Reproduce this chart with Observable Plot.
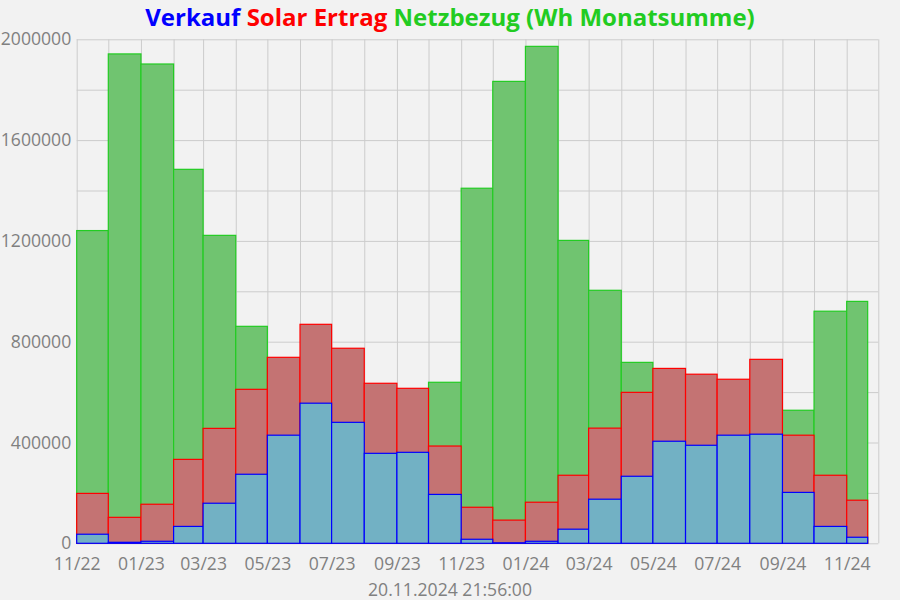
<!DOCTYPE html>
<html>
<head>
<meta charset="utf-8">
<script src="https://cdn.jsdelivr.net/npm/d3@7"></script>
<script src="https://cdn.jsdelivr.net/npm/@observablehq/plot@0.6"></script>
<style>
  html, body { margin: 0; padding: 0; background: #f2f2f2; }
  #wrap { position: relative; width: 900px; height: 600px; overflow: hidden; }
  #title { position: absolute; left: 0; top: 5px; width: 900px; text-align: center;
           font-family: "Open Sans", sans-serif; font-weight: bold; font-size: 24px; line-height: 24px; white-space: nowrap; }
  #caption { position: absolute; left: 0; top: 581px; width: 900px; text-align: center;
             font-family: "Open Sans", sans-serif; font-size: 17.6px; line-height: 17.6px; color: #808080; }
  #chart { position: absolute; left: 0; top: 0; }
</style>
</head>
<body>
<div id="wrap">
  <div id="chart"></div>
  <div id="title"><span style="color:#0000ff">Verkauf</span> <span style="color:#ff0000">Solar Ertrag</span> <span style="color:#22cc22">Netzbezug (Wh Monatsumme)</span></div>
  <div id="caption">20.11.2024 21:56:00</div>
</div>
<script>
// Months (category labels, year-month)
const months = ["2022-11","2022-12","2023-01","2023-02","2023-03","2023-04","2023-05","2023-06","2023-07","2023-08","2023-09","2023-10",
                "2023-11","2023-12","2024-01","2024-02","2024-03","2024-04","2024-05","2024-06","2024-07","2024-08","2024-09","2024-10","2024-11"];
// Verkauf (Wh, blue)
const verkauf = [36000, 4000, 8000, 67000, 159000, 274000, 429000, 556000, 480000, 357000, 361000, 194000,
                 16000, 2000, 8000, 56000, 175000, 266000, 405000, 389000, 429000, 433000, 202000, 67000, 24000];
// Solar Ertrag (Wh, red)
const solar = [198000, 103000, 155000, 333000, 456000, 611000, 738000, 869000, 774000, 635000, 615000, 386000,
               143000, 92000, 163000, 270000, 457000, 599000, 694000, 671000, 651000, 730000, 429000, 270000, 171000];
// Netzbezug (Wh, green) - summer values hidden behind red are estimates
const netz = [1241000, 1942000, 1902000, 1484000, 1222000, 861000, 420000, 330000, 300000, 310000, 400000, 639000,
              1409000, 1833000, 1972000, 1202000, 1004000, 718000, 480000, 370000, 360000, 390000, 528000, 921000, 960000];
const dataTime = "2024-11-20T21:56:00Z";
const axisEnd = "2024-12";
const yTicks = [0, 400000, 800000, 1200000, 1600000, 2000000];
const yGrid = [0, 200000, 400000, 600000, 800000, 1000000, 1200000, 1400000, 1600000, 1800000, 2000000];

const parseM = s => new Date(s + "-01T00:00:00Z");
const starts = months.map(parseM);
const rows = months.map((m, i) => ({
  start: starts[i],
  end: i < months.length - 1 ? starts[i + 1] : new Date(dataTime),
  verkauf: verkauf[i], solar: solar[i], netz: netz[i]
}));
const gridMonths = [...starts, parseM(axisEnd)];
const labelMonths = starts.filter((d, i) => i % 2 === 0);

const chart = Plot.plot({
  width: 900,
  height: 600,
  marginTop: 39.3,
  marginBottom: 56.7,
  marginLeft: 76.7,
  marginRight: 21.7,
  style: { background: "transparent", fontFamily: "Open Sans, sans-serif", fontSize: "17.6px", color: "#808080" },
  x: { type: "utc", domain: [starts[0], parseM(axisEnd)] },
  y: { domain: [0, 2000000] },
  marks: [
    Plot.gridX(gridMonths, { stroke: "#cccccc", strokeOpacity: 1, strokeWidth: 1 }),
    Plot.gridY(yGrid, { stroke: "#cccccc", strokeOpacity: 1, strokeWidth: 1 }),
    Plot.rectY(rows, { x1: "start", x2: "end", y: "netz", fill: "#70c470", stroke: "#22cc22", strokeWidth: 1.2 }),
    Plot.rectY(rows, { x1: "start", x2: "end", y: "solar", fill: "#c47373", stroke: "#ff0000", strokeWidth: 1.2 }),
    Plot.rectY(rows, { x1: "start", x2: "end", y: "verkauf", fill: "#72b1c4", stroke: "#0000ff", strokeWidth: 1.2 }),
    Plot.axisX(labelMonths, { tickSize: 0, tickPadding: 14, tickFormat: d3.utcFormat("%m/%y"), fill: "#808080", fontSize: 17.6 }),
    Plot.axisY(yTicks, { tickSize: 0, tickPadding: 6, tickFormat: d3.format("d"), fill: "#808080", fontSize: 17.6 })
  ]
});
document.getElementById("chart").appendChild(chart);
</script>
</body>
</html>
